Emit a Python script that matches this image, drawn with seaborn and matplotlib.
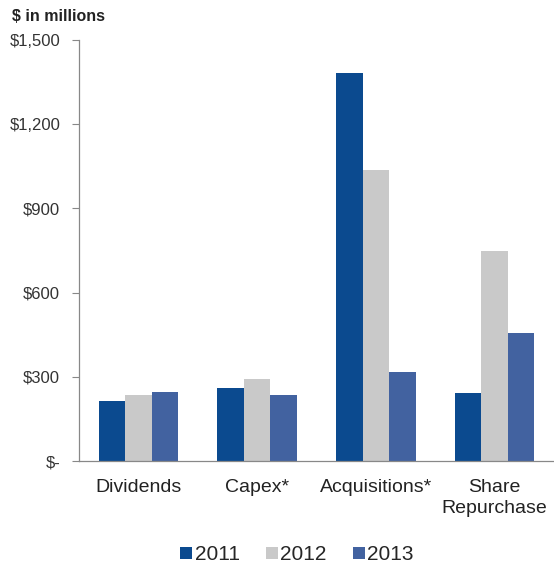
import matplotlib
matplotlib.use("Agg")
import matplotlib.pyplot as plt
import seaborn as sns
import pandas as pd

categories = ["Dividends", "Capex*", "Acquisitions*", "Share\nRepurchase"]
years = ["2011", "2012", "2013"]
values_2011 = [215, 259, 1383, 241]
values_2012 = [235, 293, 1037, 748]
values_2013 = [245, 235, 318, 456]
yticks = [0, 300, 600, 900, 1200, 1500]
ytick_labels = ["$-", "$300", "$600", "$900", "$1,200", "$1,500"]
colors = ["#0B4A8F", "#C9C9C9", "#4262A0"]

rows = []
for yr, vals in zip(years, [values_2011, values_2012, values_2013]):
    for c, v in zip(categories, vals):
        rows.append({"category": c, "year": yr, "value": v})
df = pd.DataFrame(rows)

sns.set_style("white")
plt.rcParams["font.family"] = ["Liberation Sans", "DejaVu Sans"]

fig = plt.figure(figsize=(5.54, 5.72), dpi=100)
ax = fig.add_axes([0.1426, 0.194, 0.8574, 0.736])
sns.barplot(data=df, x="category", y="value", hue="year", order=categories,
            hue_order=years, palette=colors, width=0.67, saturation=1,
            linewidth=0, ax=ax, legend=True)

ax.set_ylim(0, 1500)
ax.set_xlim(-0.5, 3.5)
ax.set_yticks(yticks)
ax.set_yticklabels(ytick_labels, fontsize=12, color="#333333")
ax.tick_params(axis="y", direction="out", length=5, width=0.8, color="#888888", left=True, pad=8.5)
ax.tick_params(axis="x", length=0, labelsize=14, colors="#222222", pad=13)
for lbl in ax.get_xticklabels():
    lbl.set_linespacing(1.3)
ax.set_xlabel("")
ax.set_ylabel("")
for s in ["top", "right"]:
    ax.spines[s].set_visible(False)
for s in ["left", "bottom"]:
    ax.spines[s].set_color("#888888")
    ax.spines[s].set_linewidth(0.9)

fig.text(0.022, 0.972, "$ in millions", fontsize=11.5, fontweight="bold", color="#222222", va="center")

handles, labels = ax.get_legend_handles_labels()
ax.legend_.remove()
fig.legend(handles, labels, loc="center", bbox_to_anchor=(0.536, 0.030), ncol=3,
           frameon=False, fontsize=15, handlelength=0.58, handleheight=0.58,
           handletextpad=0.12, columnspacing=1.25)

fig.savefig("out.png", dpi=100)
